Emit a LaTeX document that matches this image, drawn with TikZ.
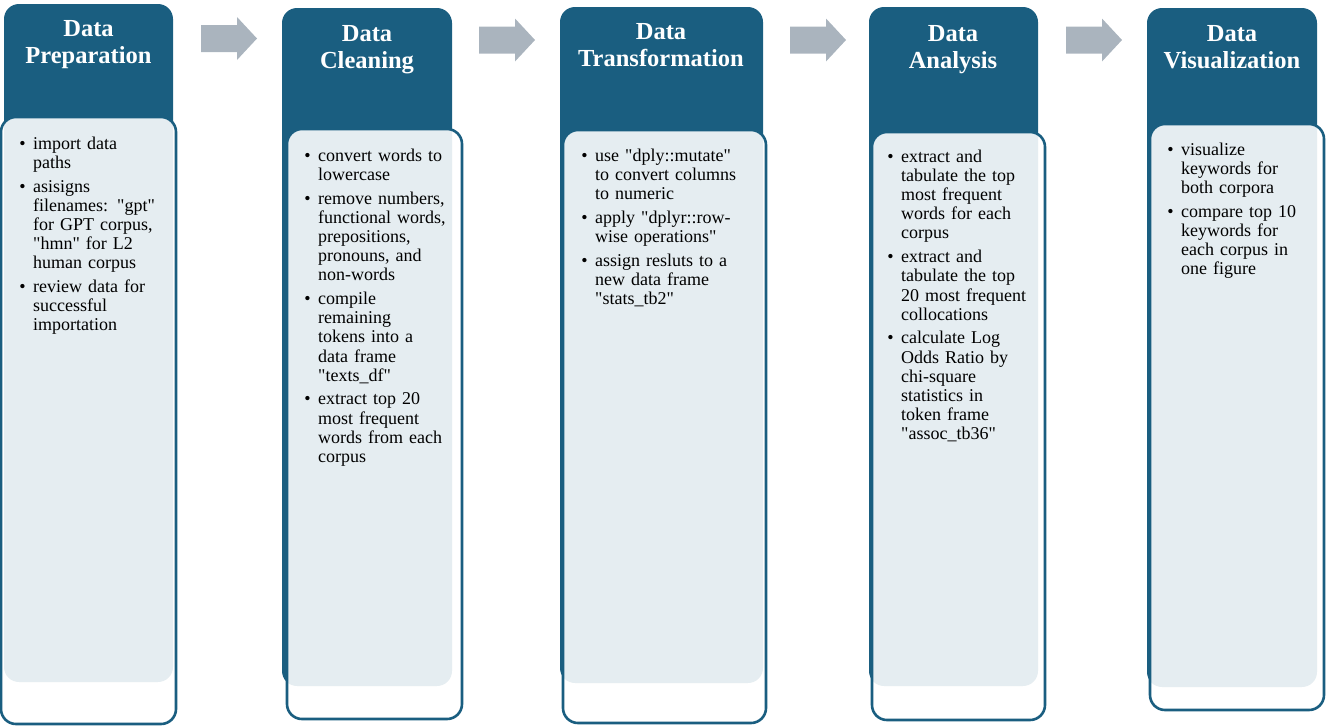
\documentclass[tikz,border=0pt]{standalone}
\usepackage{fontspec}
\setmainfont{Liberation Serif}[Ligatures=TeXOff]
\usepackage{enumitem}
\definecolor{dblue}{HTML}{1A5E80}
\definecolor{agray}{HTML}{AAB4BE}
\newcommand{\blist}[1]{\begin{itemize}[leftmargin=11pt,labelsep=7.5pt,itemsep=4.6pt,parsep=0pt,topsep=0pt,partopsep=0pt]#1\end{itemize}}
\begin{document}
\begin{tikzpicture}[x=1pt,y=-1pt,
  backbox/.style={fill=dblue, rounded corners=15pt},
  frontbox/.style={draw=dblue, line width=2.6pt, fill=white, fill opacity=0.89, rounded corners=15pt},
  head/.style={text=white, font=\fontsize{24.5}{27}\selectfont\bfseries, align=center, inner sep=0pt},
  body/.style={anchor=north west, inner sep=0pt, text width=#1, align=left, font=\fontsize{18}{19.15}\selectfont},
  arr/.style={fill=agray}]
\useasboundingbox (0,0) rectangle (1326,726);
% columns: back boxes
\path[backbox] (4,4) rectangle (173,682);
\path[backbox] (282,8) rectangle (452,686);
\path[backbox] (560,7) rectangle (763,683);
\path[backbox] (869,7) rectangle (1038,686);
\path[backbox] (1147,8) rectangle (1317,687);
% front boxes
\path[frontbox] (1,117) rectangle (176,724);
\path[frontbox] (287,129) rectangle (462,719);
\path[frontbox] (563,130) rectangle (766,723);
\path[frontbox] (872,132) rectangle (1045,720);
\path[frontbox] (1150,124) rectangle (1324,710);
% arrows
\foreach \x/\y in {201/38.5, 479/40, 790/40, 1066/40}{
  \fill[agray] (\x,\y-13.5) -- (\x+36,\y-13.5) -- (\x+36,\y-21.5) -- (\x+56,\y) -- (\x+36,\y+21.5) -- (\x+36,\y+13.5) -- (\x,\y+13.5) -- cycle;
}
% headers
\node[head] (h1) at (88.5,45) {Data\\Preparation};
\node[head] (h2) at (367,50) {Data\\Cleaning};
\node[head] (h3) at (661,45) {Data\\Transformation};
\node[head] (h4) at (953,50) {Data\\Analysis};
\node[head] (h5) at (1232,47) {Data\\Visualization};
% bodies
\node[body=150pt] (b1) at (22,130) {\blist{
  \item import data\\paths
  \item asisigns\\filenames: "gpt"\\for GPT corpus,\\"hmn" for L2\\human corpus
  \item review data for\\successful\\importation}};
\node[body=150pt] (b2) at (307,142) {\blist{
  \item convert words to\\lowercase
  \item remove numbers,\\functional words,\\prepositions,\\pronouns, and\\non-words
  \item compile\\remaining\\tokens into a\\data frame\\"texts\_df"
  \item extract top 20\\most frequent\\words from each\\corpus}};
\node[body=180pt] (b3) at (584,142) {\blist{
  \item use "dply::mutate"\\to convert columns\\to numeric
  \item apply "dplyr::row-\\wise operations"
  \item assign resluts to a\\new data frame\\"stats\_tb2"}};
\node[body=150pt] (b4) at (890,143) {\blist{
  \item extract and\\tabulate the top\\most frequent\\words for each\\corpus
  \item extract and\\tabulate the top\\20 most frequent\\collocations
  \item calculate Log\\Odds Ratio by\\chi-square\\statistics in\\token frame\\"assoc\_tb36"}};
\node[body=150pt] (b5) at (1170,136) {\blist{
  \item visualize\\keywords for\\both corpora
  \item compare top 10\\keywords for\\each corpus in\\one figure}};
\end{tikzpicture}
\end{document}
